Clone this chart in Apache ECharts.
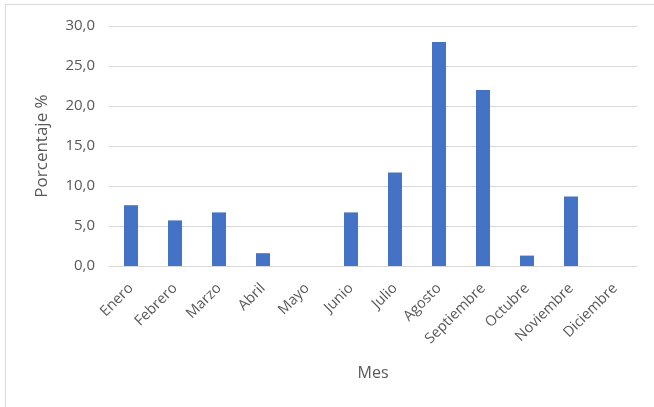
<!DOCTYPE html>
<html>
<head>
<meta charset="utf-8">
<script src="https://cdn.jsdelivr.net/npm/echarts@6/dist/echarts.min.js"></script>
<style>
html,body{margin:0;padding:0;background:#fff;}
#frame{position:absolute;left:5px;top:4px;width:660px;height:420px;border-left:1px solid #d9d9d9;border-top:1px solid #d9d9d9;}
#chart{position:absolute;left:0;top:0;width:654px;height:407px;}
</style>
</head>
<body>
<div id="frame"></div>
<div id="chart"></div>
<script>
const categories = ['Enero','Febrero','Marzo','Abril','Mayo','Junio','Julio','Agosto','Septiembre','Octubre','Noviembre','Diciembre'];
const porcentaje = [7.6, 5.7, 6.7, 1.6, 0, 6.7, 11.7, 28.0, 22.0, 1.3, 8.7, 0];
const yTitle = 'Porcentaje %';
const xTitle = 'Mes';

const chart = echarts.init(document.getElementById('chart'), null, {renderer:'canvas'});
const font = '"Open Sans", "Noto Sans", sans-serif';
chart.setOption({
  animation:false,
  grid:{left:109, right:17, top:26, bottom:141, containLabel:false},
  xAxis:{
    type:'category',
    data:categories,
    axisLine:{show:true, lineStyle:{color:'#d9d9d9', width:1}},
    axisTick:{show:false},
    axisLabel:{rotate:45, color:'#595959', fontSize:14.5, fontFamily:font, margin:20, interval:0},
    name:xTitle,
    nameLocation:'middle',
    nameGap:99,
    nameTextStyle:{color:'#595959', fontSize:16, fontFamily:font}
  },
  yAxis:{
    type:'value',
    min:0, max:30, interval:5,
    axisLine:{show:false},
    axisTick:{show:false},
    splitLine:{lineStyle:{color:'#d9d9d9', width:1}},
    axisLabel:{color:'#595959', fontSize:15, fontFamily:font, margin:14,
      formatter:v=>v.toFixed(1).replace('.',',')},
    name:yTitle,
    nameLocation:'middle',
    nameGap:58,
    nameRotate:90,
    nameTextStyle:{color:'#595959', fontSize:17, fontFamily:font}
  },
  series:[{
    type:'bar',
    data:porcentaje,
    barWidth:14,
    itemStyle:{color:'#4472C4'}
  }]
});
</script>
</body>
</html>
